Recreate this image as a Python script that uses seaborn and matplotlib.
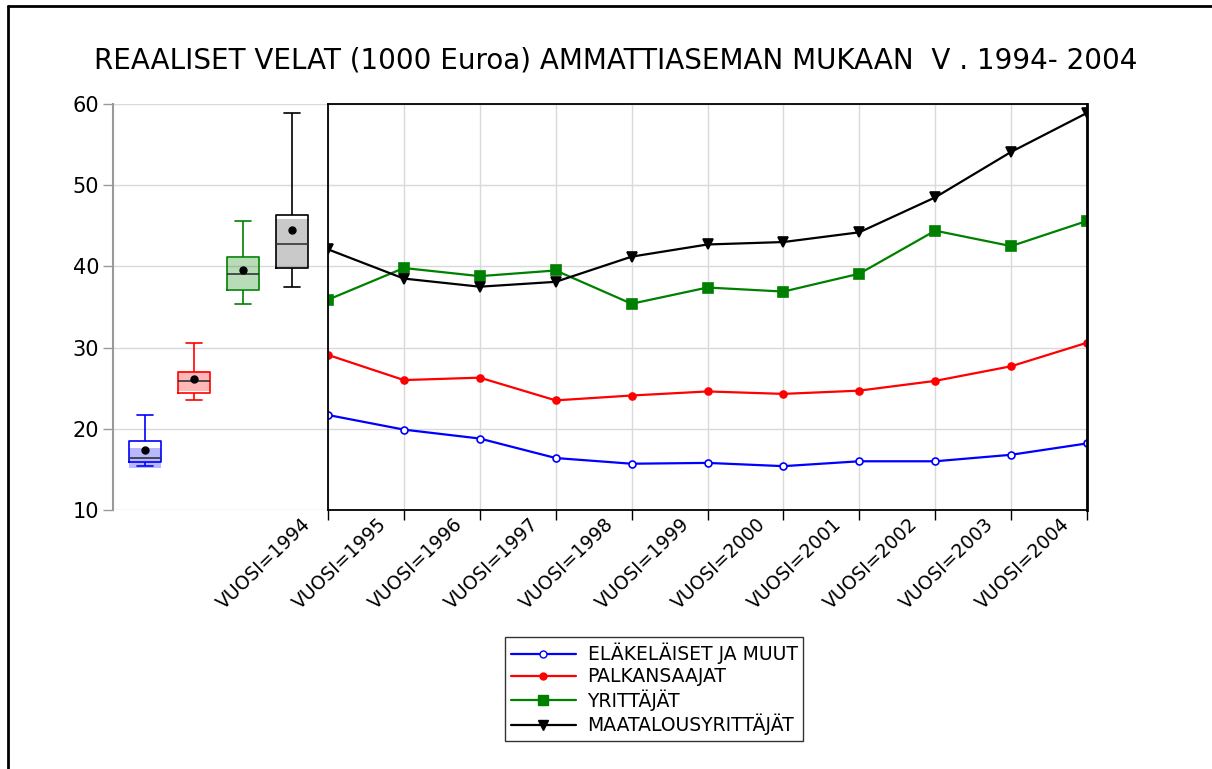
import numpy as np
import pandas as pd
import matplotlib.pyplot as plt
import matplotlib.transforms as mtransforms
from matplotlib.lines import Line2D
import seaborn as sns

years = list(range(1994, 2005))
groups = ["ELÄKELÄISET JA MUUT", "PALKANSAAJAT", "YRITTÄJÄT", "MAATALOUSYRITTÄJÄT"]
elakelaiset = [21.7, 19.9, 18.8, 16.4, 15.7, 15.8, 15.4, 16.0, 16.0, 16.8, 18.2]
palkansaajat = [29.1, 26.0, 26.3, 23.5, 24.1, 24.6, 24.3, 24.7, 25.9, 27.7, 30.6]
yrittajat = [35.9, 39.8, 38.8, 39.5, 35.4, 37.4, 36.9, 39.1, 44.4, 42.5, 45.6]
maatalous = [42.1, 38.5, 37.5, 38.1, 41.2, 42.7, 43.0, 44.2, 48.5, 54.1, 58.9]
series = [elakelaiset, palkansaajat, yrittajat, maatalous]
colors = ["#0000ff", "#ff0000", "#008000", "#000000"]
shade = ["#0000ff", "#ff0000", "#008000", "#404040"]
markers = ["o", "o", "s", "v"]
tick_labels = [f"VUOSI={y}" for y in years]

sns.set_theme(style="white")
plt.rcParams["font.family"] = ["DejaVu Sans"]
plt.rcParams["text.color"] = "black"
plt.rcParams["xtick.color"] = "black"
plt.rcParams["ytick.color"] = "black"

fig = plt.figure(figsize=(12.12, 7.69), dpi=100)
bottom, height = 1 - 510 / 769, (510 - 104) / 769
ax_box = fig.add_axes([113 / 1212, bottom, (328 - 113) / 1212, height])
ax = fig.add_axes([328 / 1212, bottom, (1087 - 328) / 1212, height])

# box plots of each series
long = pd.DataFrame({"group": np.repeat(groups, len(years)),
                     "value": np.concatenate(series)})
sns.boxplot(data=long, x="group", y="value", hue="group", palette=colors,
            fill=False, width=0.65, whis=(0, 100), showmeans=True, legend=False,
            meanprops=dict(marker="o", markerfacecolor="black", markeredgecolor="black", markersize=5),
            medianprops=dict(color="#333333", linewidth=1.2),
            linewidth=1.2, ax=ax_box)
for i, vals in enumerate(series):
    v = np.array(vals)
    q1, med, q3 = np.percentile(v, [25, 50, 75])
    notch = 1.57 * (q3 - q1) / np.sqrt(len(v))
    ax_box.bar(i, 2 * notch, bottom=med - notch, width=0.65, color=shade[i],
               alpha=0.28, linewidth=0, zorder=1)

ax_box.set_xlim(-0.65, 3.73)
ax_box.set_ylim(10, 60)
ax_box.set_yticks([10, 20, 30, 40, 50, 60])
ax_box.set_xticks([])
ax_box.set_xlabel("")
ax_box.set_ylabel("")
ax_box.grid(axis="y", color="#d9d9d9", linewidth=1)
ax_box.set_axisbelow(True)
for s in ["top", "right", "bottom"]:
    ax_box.spines[s].set_visible(False)
ax_box.spines["left"].set_color("#999999")
ax_box.spines["left"].set_linewidth(1.5)
ax_box.tick_params(axis="y", left=True, length=7, width=1, color="#999999",
                   labelsize=15, pad=3, labelcolor="black")
ax_box.patch.set_alpha(0)

# line chart
for name, vals, c, m in zip(groups, series, colors, markers):
    mfc = "white" if name == groups[0] else c
    ms = 5 if m == "o" else 7
    sns.lineplot(x=years, y=vals, color=c, marker=m, markersize=ms,
                 markerfacecolor=mfc, markeredgecolor=c, markeredgewidth=1.2,
                 linewidth=1.6, label=name, ax=ax)

ax.set_xlim(1994, 2004)
ax.set_ylim(10, 60)
ax.set_yticks([10, 20, 30, 40, 50, 60])
ax.set_yticklabels([])
ax.tick_params(axis="y", left=False)
ax.tick_params(axis="x", bottom=True, length=7, width=1, color="black", pad=0)
ax.set_xticks(years)
ax.set_xticklabels(tick_labels, rotation=44, ha="right", va="top",
                   rotation_mode="anchor", fontsize=13.5)
shift = mtransforms.ScaledTranslation(-27 / 100, 5 / 100, fig.dpi_scale_trans)
for lab in ax.get_xticklabels():
    lab.set_transform(lab.get_transform() + shift)
ax.grid(True, color="#d9d9d9", linewidth=1)
for s in ax.spines.values():
    s.set_color("black")
    s.set_linewidth(1.3)
ax.spines["right"].set_linewidth(2)
ax.legend_.remove()

handles = []
for name, c, m in zip(groups, colors, markers):
    mfc = "white" if name == groups[0] else c
    ms = 5 if m == "o" else 7
    handles.append(Line2D([], [], color=c, marker=m, markersize=ms,
                          markerfacecolor=mfc, markeredgecolor=c, linewidth=1.6))
leg = fig.legend(handles, groups, loc="upper left",
                 bbox_to_anchor=(505 / 1212, 1 - 637 / 769), fontsize=13.5,
                 frameon=True, fancybox=False, edgecolor="black",
                 handlelength=3.5, handletextpad=0.6, labelspacing=0.16,
                 borderpad=0.3, borderaxespad=0)
leg.get_frame().set_linewidth(1)

fig.text(616 / 1212, 1 - 60 / 769, "REAALISET VELAT (1000 Euroa) AMMATTIASEMAN MUKAAN  V . 1994- 2004",
         ha="center", va="center", fontsize=20)

# outer frame
fig.add_artist(Line2D([8 / 1212, 8 / 1212], [0, 1 - 6 / 769], color="black", linewidth=2,
                      transform=fig.transFigure))
fig.add_artist(Line2D([8 / 1212, 1], [1 - 6 / 769, 1 - 6 / 769], color="black", linewidth=2,
                      transform=fig.transFigure))

fig.savefig("out.png", dpi=100)
plt.close(fig)
